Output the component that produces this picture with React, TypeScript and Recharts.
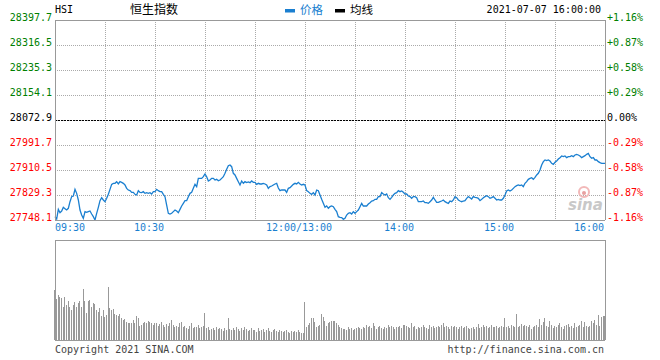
import { LineChart, Line, BarChart, Bar, XAxis, YAxis, CartesianGrid, ReferenceLine } from "recharts";

const PREV_CLOSE = 28072.9;
const priceTicks = [27748.1, 27829.3, 27910.5, 27991.7, 28072.9, 28154.1, 28235.3, 28316.5, 28397.7];
const gridMinutes = [0, 30, 60, 90, 120, 150, 180, 210, 240, 270, 300, 330];
const labelMinutes = [0, 60, 150, 210, 270, 330];
const labelTexts = ["09:30", "10:30", "12:00/13:00", "14:00", "15:00", "16:00"];
const volumeTicks = [0, 25, 50, 75, 100];

// one value per trading minute, 09:30 .. 12:00 then 13:01 .. 16:00
const prices = [
  27758.9, 27751.3, 27782.7, 27771.9, 27777.3, 27789.3, 27784.9, 27780.6, 27786.0, 27807.6,
  27823.9, 27826.0, 27847.7, 27834.7, 27813.1, 27780.6, 27764.3, 27753.5, 27775.2, 27773.0,
  27775.2, 27777.3, 27767.6, 27759.0, 27748.1, 27769.8, 27789.3, 27810.9, 27820.6, 27813.1,
  27807.6, 27818.5, 27831.5, 27847.7, 27864.0, 27867.2, 27867.2, 27872.6, 27865.1, 27872.6,
  27870.4, 27867.2, 27861.8, 27850.9, 27845.5, 27843.4, 27837.9, 27837.9, 27831.5, 27829.3,
  27843.4, 27837.9, 27836.9, 27840.1, 27834.7, 27836.9, 27834.7, 27836.9, 27832.5, 27840.1,
  27840.1, 27847.7, 27843.4, 27840.1, 27840.1, 27831.5, 27823.9, 27796.8, 27769.8, 27767.6,
  27769.8, 27775.2, 27780.6, 27777.3, 27771.9, 27782.7, 27793.6, 27802.2, 27810.9, 27810.9,
  27823.9, 27834.7, 27837.9, 27850.9, 27864.0, 27856.4, 27883.4, 27883.4, 27883.4, 27888.8,
  27897.5, 27888.8, 27874.8, 27878.0, 27883.4, 27883.4, 27878.0, 27880.2, 27875.9, 27878.0,
  27883.4, 27888.8, 27899.7, 27912.7, 27924.6, 27926.7, 27921.3, 27899.7, 27894.3, 27883.4,
  27872.6, 27861.8, 27874.8, 27867.2, 27872.6, 27869.4, 27871.5, 27869.4, 27874.8, 27870.4,
  27870.4, 27864.0, 27867.2, 27865.1, 27865.1, 27867.2, 27865.1, 27861.8, 27850.9, 27856.4,
  27858.5, 27861.8, 27865.1, 27867.2, 27852.0, 27843.4, 27845.5, 27845.5, 27845.5, 27837.9,
  27850.9, 27853.1, 27858.5, 27864.0, 27867.2, 27865.1, 27870.4, 27865.1, 27861.8, 27864.0,
  27861.8,
  27843.4, 27840.1, 27834.7, 27831.5, 27836.9, 27829.3, 27845.5, 27843.4, 27829.3, 27815.2,
  27802.2, 27789.3, 27793.6, 27786.0, 27791.4, 27793.6, 27791.4, 27782.7, 27775.2, 27759.0,
  27756.8, 27755.7, 27750.3, 27753.5, 27764.3, 27769.8, 27771.9, 27767.6, 27775.2, 27769.8,
  27775.2, 27780.6, 27791.4, 27802.2, 27793.6, 27793.6, 27793.6, 27800.0, 27804.4, 27809.8,
  27810.9, 27815.2, 27815.2, 27823.9, 27823.9, 27836.9, 27832.5, 27829.3, 27832.5, 27820.6,
  27815.2, 27821.7, 27829.3, 27834.7, 27836.9, 27843.4, 27840.1, 27842.3, 27837.9, 27832.5,
  27832.5, 27826.0, 27823.9, 27818.5, 27823.9, 27823.9, 27820.6, 27807.6, 27807.6, 27807.6,
  27809.8, 27804.4, 27804.4, 27802.2, 27807.6, 27813.1, 27821.7, 27813.1, 27805.5, 27805.5,
  27807.6, 27809.8, 27813.1, 27807.6, 27804.4, 27802.2, 27809.8, 27807.6, 27813.1, 27823.9,
  27820.6, 27813.1, 27809.8, 27807.6, 27809.8, 27810.9, 27818.5, 27823.9, 27820.6, 27816.3,
  27823.9, 27821.7, 27820.6, 27818.5, 27810.9, 27815.2, 27820.6, 27823.9, 27827.1, 27823.9,
  27818.5, 27820.6, 27823.9, 27818.5, 27813.0, 27815.2, 27813.0, 27813.0, 27818.5, 27829.3,
  27842.3, 27845.5, 27842.3, 27845.5, 27850.9, 27856.4, 27859.6, 27861.8, 27859.6, 27861.8,
  27856.4, 27867.2, 27872.6, 27880.2, 27883.4, 27885.6, 27880.2, 27886.7, 27894.3, 27899.7,
  27910.5, 27926.7, 27937.6, 27943.0, 27940.8, 27943.0, 27939.7, 27932.2, 27928.9, 27935.4,
  27939.7, 27946.2, 27950.6, 27956.0, 27953.8, 27956.0, 27950.6, 27953.8, 27953.8, 27957.1,
  27953.8, 27959.2, 27961.4, 27959.2, 27956.0, 27950.6, 27953.8, 27957.1, 27961.4, 27964.6,
  27953.8, 27948.4, 27950.6, 27943.0, 27943.0, 27937.6, 27934.3, 27932.2, 27932.2, 27932.2,
];

// relative volume per minute (panel top = 100)
const volumes = [
  50, 41, 45, 43, 42, 33, 43, 35, 39, 33, 30, 35, 38, 33, 37, 39, 33, 51, 39, 27, 39, 40, 33, 37, 36, 30, 28, 32, 24, 30,
  23, 25, 53, 32, 30, 31, 26, 25, 24, 26, 22, 20, 21, 18, 17, 17, 17, 20, 17, 24, 22, 14, 15, 17, 18, 17, 19, 18, 17, 15,
  17, 17, 14, 16, 18, 15, 13, 16, 14, 17, 20, 15, 13, 14, 13, 17, 18, 13, 14, 12, 11, 14, 17, 12, 13, 13, 15, 12, 13, 14,
  27, 12, 13, 10, 11, 12, 10, 13, 11, 12, 11, 9, 12, 10, 22, 11, 10, 12, 10, 13, 11, 9, 12, 10, 13, 11, 9, 10, 12, 10,
  10, 8, 12, 9, 10, 11, 8, 10, 12, 9, 8, 10, 11, 9, 8, 10, 9, 8, 9, 10, 8, 7, 9, 8, 9, 8, 10, 8, 7, 7,
  38,
  13, 15, 17, 22, 22, 18, 13, 14, 15, 26, 23, 19, 14, 17,
  18, 19, 19, 19, 17, 15, 13, 12, 11, 11, 10, 13, 11, 12, 10,
  11, 12, 13, 12, 11, 13, 12, 15, 13, 14, 12, 17, 14, 11, 13, 14, 12, 11, 13, 12, 15, 13, 14, 13, 11, 13, 13, 14, 12, 15,
  15, 14, 13, 12, 17, 13, 14, 11, 13, 12, 13, 15, 13, 12, 11, 15, 13, 14, 12, 13, 14, 13, 15, 17, 13, 14, 13, 11, 14, 13,
  14, 13, 11, 13, 14, 12, 13, 14, 12, 11, 12, 13, 11, 13, 16, 12, 13, 15, 13, 14, 12, 13, 15, 13, 13, 14, 12, 13, 14, 13,
  22, 13, 14, 12, 15, 14, 13, 26, 13, 14, 16, 14, 15, 14, 13, 15, 11, 13, 14, 15, 13, 21, 15, 18, 22, 14, 13, 19, 15, 12,
  14, 13, 15, 17, 13, 11, 14, 15, 16, 13, 14, 12, 17, 13, 14, 15, 19, 13, 18, 14, 13, 14, 19, 17, 20, 15, 25, 14, 23, 24, 24,
];

const data = prices.map((p, i) => ({ t: i, price: p, vol: volumes[i] }));

const MONO = "'DejaVu Sans Mono', monospace";
const CJK = "'Noto Sans CJK SC', sans-serif";
const BLUE = "#1a7fd0";
const GREEN = "#008000";
const RED = "#ff0000";

const tone = (v: number) => (Math.abs(v - PREV_CLOSE) < 0.01 ? "#000" : v > PREV_CLOSE ? GREEN : RED);

function PriceTick({ x, y, payload }: any) {
  const v = payload.value as number;
  return (
    <text x={x - 3} y={y + 1} textAnchor="end" fontSize={10} fontFamily={MONO} fill={tone(v)}>
      {v.toFixed(1)}
    </text>
  );
}

function PctTick({ x, y, payload }: any) {
  const v = payload.value as number;
  const pct = ((v - PREV_CLOSE) / PREV_CLOSE) * 100;
  const label = Math.abs(pct) < 0.005 ? "0.00%" : (pct > 0 ? "+" : "") + pct.toFixed(2) + "%";
  return (
    <text x={x + 2} y={y + 1} textAnchor="start" fontSize={10} fontFamily={MONO} fill={tone(v)}>
      {label}
    </text>
  );
}

function TimeTick({ x, y, payload }: any) {
  const idx = labelMinutes.indexOf(payload.value);
  if (idx < 0) return null;
  const first = idx === 0;
  const last = idx === labelMinutes.length - 1;
  return (
    <text
      x={first ? x : last ? x - 1 : x - 6}
      y={y + 11}
      textAnchor={first ? "start" : last ? "end" : "middle"}
      fontSize={10}
      fontFamily={MONO}
      fill={BLUE}
    >
      {labelTexts[idx]}
    </text>
  );
}

export default function App() {
  return (
    <div style={{ position: "fixed", left: 0, top: 0, width: 660, height: 360, background: "#fff" }}>
      <style>{`
        .recharts-cartesian-grid line, .recharts-reference-line line, .recharts-cartesian-axis-line,
        .recharts-bar-rectangle path { shape-rendering: crispEdges; }
      `}</style>
      <div style={{ position: "absolute", left: 0, top: 0 }}>
        <LineChart width={660} height={240} data={data} margin={{ top: 20, right: 0, bottom: 0, left: 0 }}>
          <CartesianGrid stroke="#aaa" strokeDasharray="1 1" />
          <XAxis
            dataKey="t"
            type="number"
            domain={[0, 330]}
            ticks={gridMinutes}
            interval={0}
            tick={<TimeTick />}
            tickLine={false}
            tickSize={0}
            tickMargin={0}
            axisLine={{ stroke: "#999" }}
            height={20}
          />
          <YAxis
            domain={[27748.1, 28397.7]}
            allowDataOverflow
            ticks={priceTicks}
            interval={0}
            tick={<PriceTick />}
            tickLine={false}
            tickSize={0}
            tickMargin={0}
            axisLine={{ stroke: "#999" }}
            width={55}
          />
          <YAxis
            yAxisId="pct"
            orientation="right"
            domain={[27748.1, 28397.7]}
            allowDataOverflow
            ticks={priceTicks}
            interval={0}
            tick={<PctTick />}
            tickLine={false}
            tickSize={0}
            tickMargin={0}
            axisLine={{ stroke: "#999" }}
            width={55}
          />
          <ReferenceLine y={28397.7} stroke="#999" />
          <ReferenceLine y={PREV_CLOSE} stroke="#000" strokeDasharray="2 1" />
          <Line
            type="linear"
            dataKey="price"
            stroke={BLUE}
            strokeWidth={1.3}
            dot={false}
            isAnimationActive={false}
          />
        </LineChart>
      </div>
      <div style={{ position: "absolute", left: 0, top: 230 }}>
        <BarChart width={660} height={115} data={data} margin={{ top: 10, right: 0, bottom: 0, left: 0 }}>
          <CartesianGrid stroke="#aaa" strokeDasharray="1 1" />
          <XAxis
            dataKey="t"
            type="number"
            domain={[0, 330]}
            ticks={gridMinutes}
            interval={0}
            tick={false}
            tickLine={false}
            axisLine={{ stroke: "#999" }}
            height={5}
          />
          <YAxis domain={[0, 100]} ticks={volumeTicks} tick={false} tickLine={false} axisLine={{ stroke: "#999" }} width={55} />
          <YAxis
            yAxisId="r"
            orientation="right"
            domain={[0, 100]}
            ticks={volumeTicks}
            tick={false}
            tickLine={false}
            axisLine={{ stroke: "#999" }}
            width={55}
          />
          <ReferenceLine y={100} stroke="#999" />
          <Bar dataKey="vol" fill="#999" barSize={1} isAnimationActive={false} />
        </BarChart>
      </div>
      <svg width={660} height={360} style={{ position: "absolute", left: 0, top: 0, pointerEvents: "none" }}>
        <text x={55} y={13} fontSize={10} fontFamily={MONO} fill="#000">HSI</text>
        <text x={154} y={14} fontSize={12} fontFamily={CJK} textAnchor="middle" fill="#000">恒生指数</text>
        <rect x={285} y={9} width={10} height={3.5} fill={BLUE} />
        <text x={300} y={14} fontSize={11.5} fontFamily={CJK} fill={BLUE}>价格</text>
        <rect x={335} y={9} width={10} height={3.5} fill="#000" />
        <text x={350} y={14} fontSize={11.5} fontFamily={CJK} fill="#000">均线</text>
        <text x={601} y={13} fontSize={10} fontFamily={MONO} textAnchor="end" fill="#000">2021-07-07 16:00:00</text>
        <circle cx={584} cy={192} r={5} fill="none" stroke="#f2b8b8" strokeWidth={2} />
        <circle cx={584} cy={193} r={2} fill="#e8a0a0" />
        <text x={568} y={210} fontSize={15} fontStyle="italic" fontWeight="bold" fontFamily="'DejaVu Sans', sans-serif" fill="#c8c8c8">sina</text>
        <text x={55} y={353} fontSize={10} fontFamily={MONO} fill="#444">Copyright 2021 SINA.COM</text>
        <text x={604} y={353} fontSize={10} fontFamily={MONO} textAnchor="end" fill="#444">http://finance.sina.com.cn</text>
      </svg>
    </div>
  );
}
